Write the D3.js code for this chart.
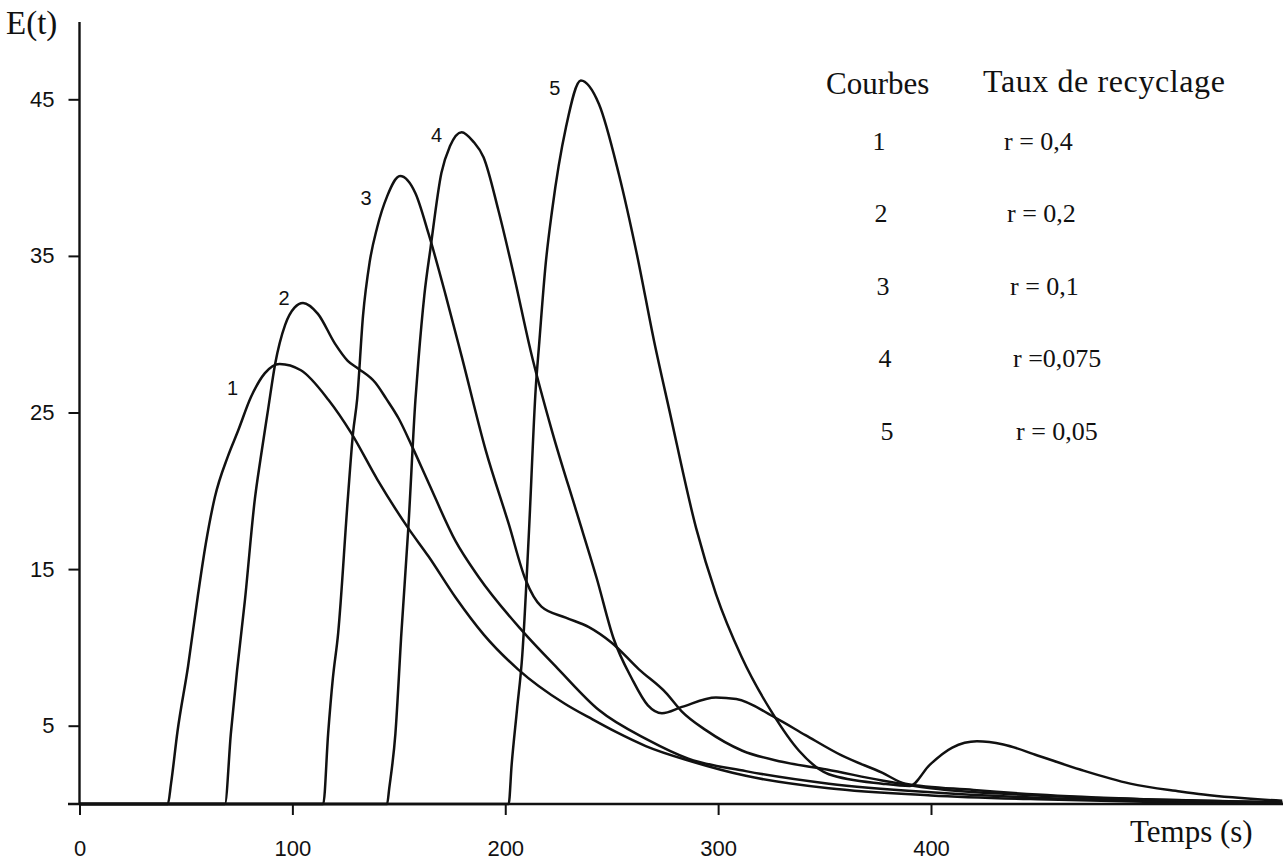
<!DOCTYPE html>
<html>
<head>
<meta charset="utf-8">
<script src="https://cdn.jsdelivr.net/npm/d3@7"></script>
<style>
  body { margin: 0; background: #fff; }
  svg { display: block; }
</style>
</head>
<body>
<div id="chart"></div>
<script>
// Residence time curves E(t), as [t (s), E(t)]
const curve1 = [[0,0],[41.5,0],[43,1.3],[46,4.6],[51,8.8],[55.6,13.3],[59.3,16.6],[63.6,19.6],[69.7,22.2],[74.4,23.8],[80.6,26],[87,27.5],[94,28.1],[104,27.7],[117,25.8],[127.6,23.7],[140,20.7],[154.5,17.6],[164,15.8],[176.6,13.2],[190,10.8],[206,8.6],[228,6.4],[241,5.4],[252,4.6],[266,3.7],[288,2.7],[313,1.8],[352,1.0],[400,0.55],[450,0.3],[500,0.15],[565,0.05]];
const curve2 = [[0,0],[68.3,0],[71.1,4.5],[74,8.5],[77.7,13],[82.4,19.5],[85,22],[88.6,25.2],[91.9,28.1],[96.6,30.6],[101,31.7],[105,32],[112,31.3],[120,29.4],[126,28.3],[131,27.8],[139,26.9],[144,25.9],[150,24.6],[156,22.9],[164,20.5],[176.6,16.8],[187.5,14.5],[207.7,11.1],[225,8.6],[244,6.0],[267,4.1],[286,2.9],[313,2.1],[352,1.3],[400,0.75],[450,0.4],[500,0.2],[565,0.08]];
const curve3 = [[0,0],[114.5,0],[116.8,4.5],[119,8],[121.5,10.9],[126,19.4],[128.5,23.7],[130.4,25.8],[133.2,31.2],[136.3,34.6],[139.8,36.8],[144.5,38.8],[150.6,40.1],[157.8,39.0],[164,36.4],[172,32.5],[179.5,28.6],[190.8,22.6],[201.6,17.9],[209.6,14.3],[217,12.6],[228.4,11.9],[239.3,11.3],[250,10.3],[262.8,8.6],[275.5,7.1],[283,5.9],[294.4,4.7],[311.4,3.4],[330,2.7],[351,2.2],[377,1.5],[400,1.0],[450,0.55],[500,0.3],[565,0.1]];
const curve4 = [[0,0],[144.5,0],[145.5,1],[148.4,4.5],[151.2,10.9],[154.5,17.7],[157.8,25.8],[159.2,28.3],[162,32.5],[164.9,35.5],[170,40.3],[174,42.0],[179.5,42.9],[185,42.3],[189.8,41.3],[196.8,37.9],[204,33.8],[212,28.9],[222,23.8],[233.6,18.6],[243,14.4],[250.8,10.6],[259.5,8.0],[267,6.3],[273.6,5.8],[283,6.2],[299,6.8],[308.5,6.7],[327,5.5],[341,4.4],[358,3.1],[377,2.0],[388,1.3],[420,0.9],[450,0.6],[500,0.3],[565,0.1]];
const curve5 = [[0,0],[201.6,0],[203,2.5],[205.5,6],[208,9.5],[211,17],[214.3,26.5],[216,29.5],[219,34.5],[222,37.9],[228.5,43.2],[235.5,46.2],[244,44.7],[253.4,40.2],[262,35],[270,29.5],[277,25.2],[289.7,17.6],[299,13.4],[311,9.4],[325.5,5.8],[338,3.4],[352,1.9],[377,1.3],[390,1.15],[399.4,2.5],[410,3.6],[421.6,4.0],[434,3.8],[450,3.1],[470,2.2],[493.6,1.3],[517,0.8],[528,0.6],[565,0.2]];

const curves = [curve1, curve2, curve3, curve4, curve5];
const curveNames = ['1', '2', '3', '4', '5'];
const rates = ['r = 0,4', 'r = 0,2', 'r = 0,1', 'r =0,075', 'r = 0,05'];
const xTicks = [0, 100, 200, 300, 400];
const yTicks = [5, 15, 25, 35, 45];

function drawChart() {
    const width = 1283, height = 861;

    const svg = d3.select('#chart')
        .append('svg')
        .attr('width', width)
        .attr('height', height);

    const x = d3.scaleLinear().domain([0, 400]).range([79.5, 931]);
    const y = d3.scaleLinear().domain([0, 45]).range([804, 99.3]);

    // axis lines (the x axis runs on to the page edge)
    svg.append('line')
        .attr('x1', 68).attr('x2', width)
        .attr('y1', y(0)).attr('y2', y(0))
        .attr('stroke', '#111').attr('stroke-width', 2.4);
    svg.append('line')
        .attr('x1', x(0)).attr('x2', x(0))
        .attr('y1', 22).attr('y2', y(0))
        .attr('stroke', '#111').attr('stroke-width', 2.4);

    const xAxis = svg.append('g')
        .attr('transform', `translate(0,${y(0)})`)
        .call(d3.axisBottom(x).tickValues(xTicks).tickSize(11).tickSizeOuter(0).tickPadding(25));
    const yAxis = svg.append('g')
        .attr('transform', `translate(${x(0)},0)`)
        .call(d3.axisLeft(y).tickValues(yTicks).tickSize(11).tickSizeOuter(0).tickPadding(14));

    [xAxis, yAxis].forEach(g => {
        g.select('.domain').remove();
        g.selectAll('line').attr('stroke', '#111').attr('stroke-width', 2);
        g.selectAll('text')
            .attr('fill', '#111')
            .style('font-family', '"Liberation Sans", Arial, sans-serif')
            .style('font-size', '22px');
    });

    // curves
    const line = d3.line()
        .x(d => x(d[0]))
        .y(d => y(d[1]))
        .curve(d3.curveMonotoneX);

    svg.selectAll('path.curve')
        .data(curves)
        .enter()
        .append('path')
        .attr('class', 'curve')
        .attr('d', line)
        .attr('fill', 'none')
        .attr('stroke', '#111')
        .attr('stroke-width', 2.5)
        .attr('stroke-linejoin', 'round');

    // curve numbers, placed left of each peak
    const labelShift = [[-47, 24], [-19, -5], [-34, 22], [-25, 3], [-26, 7]];
    curves.forEach((c, i) => {
        const peak = c.reduce((a, b) => (b[1] > a[1] ? b : a));
        svg.append('text')
            .attr('x', x(peak[0]) + labelShift[i][0])
            .attr('y', y(peak[1]) + labelShift[i][1])
            .attr('text-anchor', 'middle')
            .attr('dominant-baseline', 'central')
            .style('font-family', '"Liberation Sans", Arial, sans-serif')
            .style('font-size', '20px')
            .attr('fill', '#111')
            .text(curveNames[i]);
    });

    // axis titles
    const serif = '"Liberation Serif", "Times New Roman", serif';
    svg.append('text')
        .attr('x', 6).attr('y', 34)
        .style('font-family', serif)
        .style('font-size', '33px')
        .attr('fill', '#111')
        .text('E(t)');
    svg.append('text')
        .attr('x', 1130).attr('y', 842)
        .style('font-family', serif)
        .style('font-size', '31px')
        .attr('fill', '#111')
        .text('Temps (s)');

    // legend table
    svg.append('text')
        .attr('x', 826).attr('y', 94)
        .style('font-family', serif).style('font-size', '31px').attr('fill', '#111')
        .text('Courbes');
    svg.append('text')
        .attr('x', 983).attr('y', 92)
        .style('font-family', serif).style('font-size', '32px')
        .style('letter-spacing', '0.6px').attr('fill', '#111')
        .text('Taux de recyclage');

    const row = d3.scalePoint().domain(curveNames).range([141, 431]);
    curveNames.forEach((n, i) => {
        svg.append('text')
            .attr('x', 879 + i * 2).attr('y', row(n))
            .attr('text-anchor', 'middle')
            .attr('dominant-baseline', 'central')
            .style('font-family', serif).style('font-size', '26px').attr('fill', '#111')
            .text(n);
        svg.append('text')
            .attr('x', 1004 + i * 3).attr('y', row(n))
            .attr('dominant-baseline', 'central')
            .style('font-family', serif).style('font-size', '26px').attr('fill', '#111')
            .text(rates[i]);
    });
}

drawChart();
</script>
</body>
</html>
